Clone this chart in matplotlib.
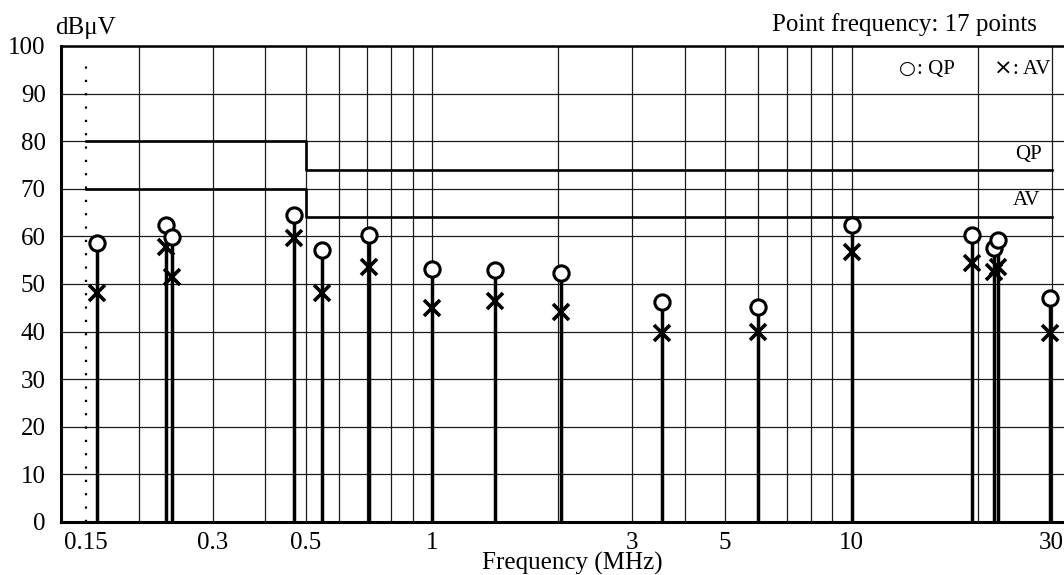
import numpy as np
import matplotlib
matplotlib.use('Agg')
import matplotlib.pyplot as plt

plt.rcParams['font.family'] = ['Liberation Serif', 'DejaVu Sans']

# measured emissions (MHz, dBuV)
freq = [0.159, 0.232, 0.2395, 0.469, 0.546, 0.707, 1.0, 1.41, 2.03, 3.54,
        6.0, 10.0, 19.4, 21.8, 22.3, 29.7]
qp = [58.6, 62.4, 59.9, 64.5, 57.1, 60.3, 53.2, 52.9, 52.3, 46.2,
      45.2, 62.4, 60.3, 57.5, 59.2, 47.0]
av = [48.2, 57.8, 51.5, 59.7, 48.1, 53.6, 45.0, 46.4, 44.1, 39.7,
      40.0, 56.8, 54.4, 52.6, 53.6, 39.8]

# limit lines
limit_f = [0.15, 0.5, 0.5, 30]
qp_limit = [80, 80, 74, 74]
av_limit = [70, 70, 64, 64]

grid_f = [0.2, 0.3, 0.4, 0.5, 0.6, 0.7, 0.8, 0.9,
          1, 2, 3, 4, 5, 6, 7, 8, 9, 10, 20, 30]
label_f = [0.15, 0.3, 0.5, 1, 3, 5, 10, 30]
label_txt = ['0.15', '0.3', '0.5', '1', '3', '5', '10', '30']
y_ticks = list(range(0, 101, 10))

W, H = 1064, 575
fig = plt.figure(figsize=(W / 100, H / 100), dpi=100)
ax = fig.add_axes([61 / W, 1 - 522 / H, 1003 / W, 476 / H])

ax.set_xscale('log')
ax.set_xlim(0.1305, 32.1)
ax.set_ylim(0, 100)

ax.set_xticks(label_f)
ax.set_xticklabels(label_txt)
ax.minorticks_off()
ax.set_yticks(y_ticks)
ax.yaxis.grid(True, color='#1a1a1a', lw=0.9)
for f in grid_f:
    ax.axvline(f, color='#1a1a1a', lw=0.9, zorder=0.5)
ax.tick_params(which='both', length=0, labelsize=18)
ax.tick_params(axis='y', pad=11)
ax.tick_params(axis='x', pad=7)

for side in ['left', 'bottom']:
    ax.spines[side].set_linewidth(2.2)
ax.spines['top'].set_linewidth(1.8)
ax.spines['right'].set_visible(False)

# 0.15 MHz marker
ax.plot([0.15, 0.15], [0, 97.5], color='black', lw=1.6, ls=(0, (1, 5)))

ax.plot(limit_f, qp_limit, color='black', lw=1.9)
ax.plot(limit_f, av_limit, color='black', lw=1.9)

ax.vlines(freq, 0, qp, color='black', lw=2.5, zorder=3)
ax.plot(freq, av, ls='none', marker='x', ms=12, mew=2.6, color='black', zorder=4)
ax.plot(freq, qp, ls='none', marker='o', ms=11, mew=2.2, mfc='white',
        mec='black', zorder=5)

ax.text(26.4, 77.3, 'QP', fontsize=15, ha='center', va='center')
ax.text(26.1, 67.6, 'AV', fontsize=15, ha='center', va='center')
ax.text(13.6, 95.3, '○', fontsize=14, ha='center', va='center',
        family='DejaVu Sans')
ax.text(14.3, 95, ': QP', fontsize=15, ha='left', va='center')
ax.text(23.0, 95.3, '×', fontsize=16, ha='center', va='center',
        family='DejaVu Sans')
ax.text(24.2, 95, ': AV', fontsize=15, ha='left', va='center')

fig.text(55 / W, 1 - 28 / H, 'dBμV', fontsize=18, ha='left', va='center')
fig.text(1037 / W, 1 - 25 / H, 'Point frequency: 17 points', fontsize=18,
         ha='right', va='center')
fig.text(572 / W, 1 - 563 / H, 'Frequency (MHz)', fontsize=18,
         ha='center', va='center')

fig.savefig('out.png', dpi=100)
